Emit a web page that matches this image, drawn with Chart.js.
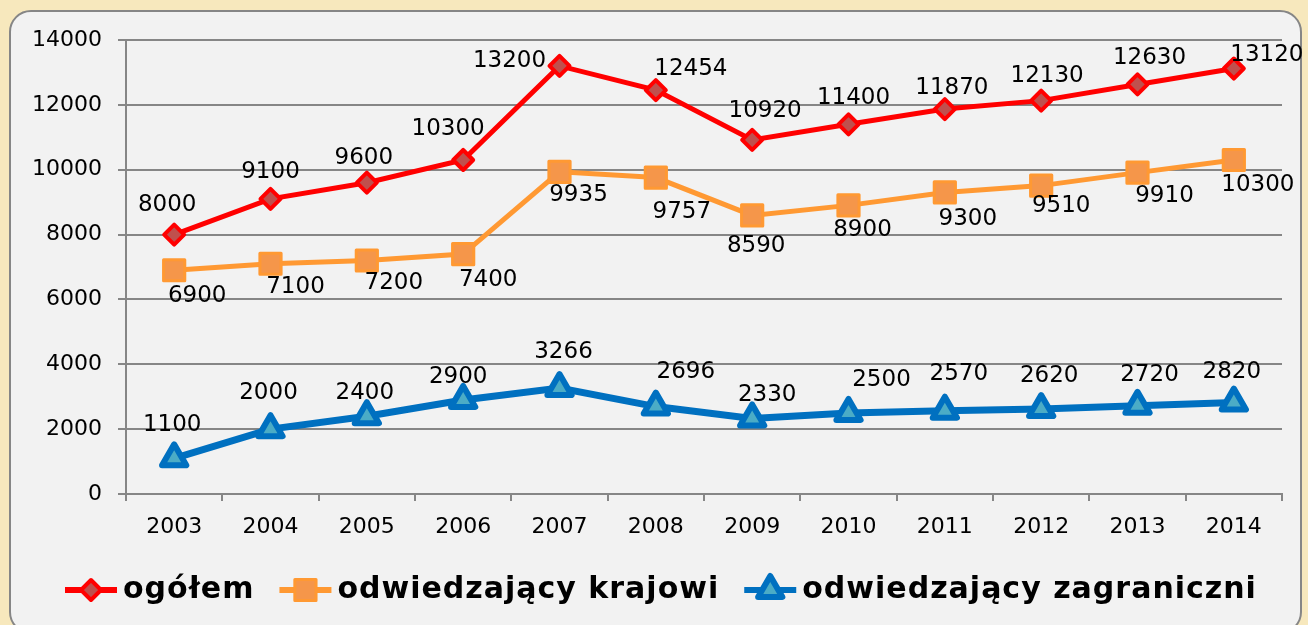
<!DOCTYPE html>
<html>
<head>
<meta charset="utf-8">
<script src="https://cdn.jsdelivr.net/npm/chart.js@4/dist/chart.umd.min.js"></script>
<style>
  html, body { margin: 0; padding: 0; background: #f7e8bd; }
  #panel {
    position: absolute; left: 9px; top: 10px; width: 1289px; height: 620px;
    background: #f2f2f2; border: 2.5px solid #868686; border-radius: 22px;
  }
  #myChart { position: absolute; left: 0; top: 0; }
</style>
</head>
<body>
<div id="panel"></div>
<canvas id="myChart" width="1308" height="625"></canvas>
<script>
// chart data
const years = ['2003', '2004', '2005', '2006', '2007', '2008', '2009', '2010', '2011', '2012', '2013', '2014'];
const ogolem = [8000, 9100, 9600, 10300, 13200, 12454, 10920, 11400, 11870, 12130, 12630, 13120];
const krajowi = [6900, 7100, 7200, 7400, 9935, 9757, 8590, 8900, 9300, 9510, 9910, 10300];
const zagraniczni = [1100, 2000, 2400, 2900, 3266, 2696, 2330, 2500, 2570, 2620, 2720, 2820];

// where each value label sits relative to its point (dx, dy)
const labelShift = [
    [[-7, -30], [0, -27], [-3, -25], [-15, -31], [-50, -5], [35, -21], [13, -29], [5, -26], [7, -21], [6, -25], [12, -26], [33, -14]],
    [[23, 26], [25, 23], [27, 23], [25, 26], [19, 23], [26, 34], [4, 31], [14, 25], [23, 27], [20, 20], [27, 23], [24, 25]],
    [[-2, -33], [-2, -36], [-2, -23], [-5, -23], [4, -36], [30, -35], [15, -23], [33, -33], [14, -37], [8, -33], [12, -31], [-2, -31]]
];

const FONT = "'DejaVu Sans', Verdana, sans-serif";
const gridGray = '#868686';

// value labels next to the points
const valueLabels = {
    id: 'valueLabels',
    afterDatasetsDraw(chart) {
        const ctx = chart.ctx;
        ctx.save();
        ctx.font = '23px ' + FONT;
        ctx.fillStyle = '#000';
        ctx.textAlign = 'center';
        ctx.textBaseline = 'middle';
        chart.data.datasets.forEach((ds, i) => {
            chart.getDatasetMeta(i).data.forEach((pt, j) => {
                const s = labelShift[i][j];
                ctx.fillText(String(ds.data[j]), pt.x + s[0], pt.y + s[1]);
            });
        });
        ctx.restore();
    }
};

// round joins for the markers
const roundJoins = {
    id: 'roundJoins',
    beforeDatasetsDraw(chart) { chart.ctx.lineJoin = 'round'; },
    afterDatasetsDraw(chart) { chart.ctx.lineJoin = 'miter'; }
};

function drawMarker(ctx, ds, x, y) {
    ctx.save();
    ctx.lineJoin = 'round';
    ctx.lineWidth = ds.pointBorderWidth;
    ctx.strokeStyle = ds.pointBorderColor;
    ctx.fillStyle = ds.pointBackgroundColor;
    Chart.helpers.drawPoint(ctx, {
        pointStyle: ds.pointStyle, radius: ds.pointRadius, rotation: 0, borderWidth: ds.pointBorderWidth
    }, x, y);
    ctx.restore();
}

// legend: line + marker, bold text
const bottomLegend = {
    id: 'bottomLegend',
    afterDraw(chart) {
        const ctx = chart.ctx;
        const y = 590;
        let x = 65;
        ctx.save();
        ctx.font = 'bold 30px ' + FONT;
        ctx.letterSpacing = '1px';
        ctx.textBaseline = 'middle';
        ctx.textAlign = 'left';
        chart.data.datasets.forEach(ds => {
            ctx.beginPath();
            ctx.strokeStyle = ds.borderColor;
            ctx.lineWidth = 6;
            ctx.moveTo(x, y);
            ctx.lineTo(x + 52, y);
            ctx.stroke();
            drawMarker(ctx, ds, x + 26, y);
            ctx.fillStyle = '#000';
            ctx.fillText(ds.label, x + 58, y);
            x += 58 + ctx.measureText(ds.label).width + 25;
        });
        ctx.restore();
    }
};

const ctx = document.getElementById('myChart').getContext('2d');
new Chart(ctx, {
    type: 'line',
    data: {
        labels: years,
        datasets: [{
            label: 'ogółem',
            data: ogolem,
            borderColor: '#ff0000',
            borderWidth: 5,
            pointStyle: 'rectRot',
            pointRadius: 10,
            pointBorderWidth: 4,
            pointBorderColor: '#ff0000',
            pointBackgroundColor: '#c0504d',
            tension: 0
        }, {
            label: 'odwiedzający krajowi',
            data: krajowi,
            borderColor: '#ff9933',
            borderWidth: 5,
            pointStyle: 'rect',
            pointRadius: 15,
            pointBorderWidth: 3,
            pointBorderColor: '#ff9933',
            pointBackgroundColor: '#f5964a',
            tension: 0
        }, {
            label: 'odwiedzający zagraniczni',
            data: zagraniczni,
            borderColor: '#0070c0',
            borderWidth: 7,
            pointStyle: 'triangle',
            pointRadius: 14,
            pointBorderWidth: 6,
            pointBorderColor: '#0070c0',
            pointBackgroundColor: '#4bacc6',
            tension: 0
        }]
    },
    options: {
        responsive: false,
        animation: false,
        layout: { padding: { left: 0, right: 26, top: 40, bottom: 0 } },
        scales: {
            x: {
                offset: true,
                grid: {
                    display: true,
                    drawOnChartArea: false,
                    offset: true,
                    tickLength: 7,
                    color: gridGray,
                    lineWidth: 2
                },
                border: { display: true, color: gridGray, width: 2 },
                ticks: { color: '#000', font: { family: FONT, size: 22 }, padding: 13 },
                afterFit(scale) { scale.height = 131; }
            },
            y: {
                min: 0,
                max: 14000,
                ticks: {
                    stepSize: 2000,
                    color: '#000',
                    font: { family: FONT, size: 22 },
                    padding: 16,
                    callback: v => String(v)
                },
                grid: { color: gridGray, lineWidth: 2, tickLength: 8 },
                border: { display: true, color: gridGray, width: 2 },
                afterFit(scale) { scale.width = 126; }
            }
        },
        plugins: {
            legend: { display: false },
            tooltip: { enabled: false }
        }
    },
    plugins: [roundJoins, valueLabels, bottomLegend]
});
</script>
</body>
</html>
